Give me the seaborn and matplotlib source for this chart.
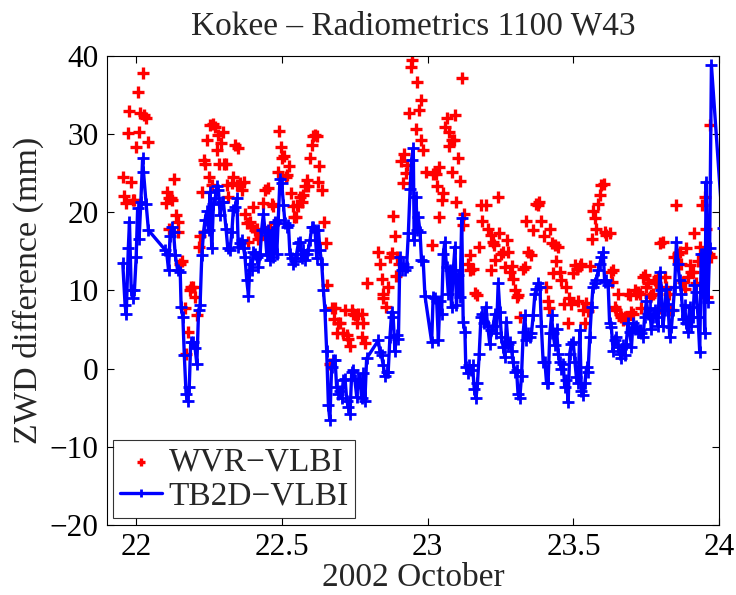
import matplotlib

matplotlib.use("Agg")

import matplotlib.pyplot as plt
import pandas as pd
import seaborn as sns


# WVR-VLBI: (day of October 2002, ZWD difference in mm)
WVR_DAY = [
    21.955, 21.960, 21.967, 21.973, 21.977, 21.984, 21.989, 21.994, 22.000, 22.006,
    22.011, 22.015, 22.026, 22.028, 22.035, 22.041, 22.103, 22.108, 22.112, 22.114,
    22.120, 22.125, 22.131, 22.137, 22.143, 22.145, 22.152, 22.157, 22.167, 22.172,
    22.180, 22.184, 22.189, 22.197, 22.203, 22.209, 22.215, 22.220, 22.226, 22.232,
    22.237, 22.243, 22.249, 22.254, 22.260, 22.264, 22.272, 22.277, 22.283, 22.286,
    22.291, 22.298, 22.302, 22.309, 22.312, 22.317,
    22.329, 22.334, 22.340, 22.346, 22.351, 22.357, 22.363, 22.369, 22.374, 22.380,
    22.386, 22.391, 22.397, 22.403, 22.409, 22.414, 22.420, 22.426, 22.437, 22.443,
    22.454, 22.460, 22.466, 22.471, 22.477, 22.488, 22.492, 22.497, 22.502, 22.508,
    22.515, 22.519, 22.526, 22.531, 22.538, 22.542, 22.549, 22.551, 22.557, 22.563,
    22.568, 22.574, 22.580, 22.586, 22.591, 22.597, 22.603, 22.608, 22.614, 22.622,
    22.626, 22.629, 22.637, 22.645, 22.652, 22.656, 22.665, 22.674, 22.680, 22.683,
    22.688, 22.694, 22.700, 22.711, 22.717, 22.723, 22.728, 22.734, 22.740, 22.745,
    22.751, 22.757, 22.763,
    22.774, 22.780, 22.775, 22.785, 22.791, 22.831, 22.837, 22.842, 22.846, 22.848,
    22.857, 22.865, 22.871, 22.877, 22.882, 22.888, 22.892, 22.896, 22.903, 22.908,
    22.914, 22.919, 22.926, 22.930, 22.937, 22.942, 22.947, 22.959, 22.965, 22.971,
    22.976, 22.979, 22.985, 22.994, 23.014, 23.019, 23.029, 23.031, 23.038, 23.040,
    23.048, 23.054, 23.059, 23.065, 23.072, 23.074, 23.082, 23.082, 23.090, 23.094,
    23.099, 23.105, 23.111, 23.117, 23.122, 23.124, 23.139, 23.145, 23.145, 23.157,
    23.162, 23.170, 23.177, 23.182, 23.188, 23.200, 23.206,
    23.217, 23.219, 23.223, 23.227, 23.231, 23.242, 23.245, 23.253, 23.259, 23.265,
    23.273, 23.276, 23.282, 23.288, 23.293, 23.299, 23.305, 23.310, 23.318, 23.328,
    23.333, 23.336, 23.345, 23.353, 23.362, 23.373, 23.379, 23.382, 23.390, 23.398,
    23.405, 23.413, 23.417, 23.419, 23.425, 23.430, 23.436, 23.440, 23.448, 23.453,
    23.459, 23.467, 23.476, 23.483, 23.485, 23.491, 23.499, 23.505, 23.513, 23.516,
    23.522, 23.527, 23.533, 23.539, 23.542, 23.550, 23.556, 23.562, 23.567, 23.573,
    23.579, 23.585, 23.590, 23.596, 23.604, 23.607, 23.613,
    23.624, 23.630, 23.633, 23.636, 23.641, 23.647, 23.653, 23.659, 23.664, 23.670,
    23.676, 23.681, 23.687, 23.693, 23.699, 23.704, 23.710, 23.716, 23.721, 23.727,
    23.733, 23.739, 23.744, 23.750, 23.756, 23.761, 23.767, 23.773, 23.778, 23.784,
    23.790, 23.796, 23.801, 23.807, 23.813, 23.818, 23.828, 23.836, 23.844, 23.853,
    23.858, 23.864, 23.870, 23.876, 23.881, 23.887, 23.893, 23.898, 23.904, 23.910,
    23.915, 23.921, 23.927, 23.935, 23.942, 23.950, 23.955, 23.958, 23.965, 23.967,
    23.973,
]
WVR_ZWD = [
    24.5, 22.1, 21.2, 30.1, 33.0, 23.9, 21.5, 21.6, 28.3, 35.4,
    30.3, 32.7, 37.8, 32.4, 32.1, 29.0, 21.2, 22.6, 17.8, 21.8,
    21.8, 21.5, 24.3, 19.7, 18.8, 17.5, 13.4, 13.8, 7.7, 1.9,
    4.7, 10.0, 10.5, 10.5, 9.2, 6.8, 15.6, 16.9, 22.6, 26.7,
    26.2, 29.2, 24.5, 31.2, 23.5, 31.3, 30.9, 28.0, 29.9, 26.2,
    28.8, 30.3, 26.2, 26.2, 23.5, 22.0,
    23.7, 24.5, 28.6, 23.5, 28.2, 23.7, 22.8, 23.9, 19.8, 18.6,
    16.2, 18.8, 18.1, 20.7, 17.7, 17.9, 16.6, 16.9, 21.2, 22.9,
    23.1, 18.1, 21.0, 20.8, 18.6, 25.2, 30.4, 28.4, 26.9, 27.2,
    24.5, 24.8, 25.9, 22.4, 20.8, 19.4, 19.4, 20.9, 20.8, 22.0,
    21.3, 22.2, 23.3, 24.1, 23.3, 26.9, 28.6, 29.7, 29.9, 29.7,
    23.9, 25.9, 22.8, 18.7, 16.1, 10.7, 0.6, 7.7, 6.4, 7.8,
    4.5, 5.8, 5.8, 4.5, 7.5, 4.3, 3.8, 2.9, 7.5, 7.0,
    6.8, 5.8, 7.0,
    7.0, 5.8, 4.1, 3.3, 10.9, 14.9, 13.4, 11.5, 9.0, 9.6,
    7.9, 10.5, 14.3, 14.8, 19.5, 16.9, 11.8, 14.3, 13.4, 26.5,
    23.7, 27.5, 25.0, 26.0, 32.7, 38.6, 39.5, 30.6, 36.6, 33.1,
    34.4, 29.2, 28.0, 25.2, 15.8, 24.9, 24.9, 23.3, 19.4, 25.8,
    21.5, 22.5, 30.9, 32.0, 30.3, 28.5, 29.2, 25.2, 29.2, 32.4,
    21.3, 26.9, 24.0, 37.1, 18.4, 19.8, 13.4, 14.5, 12.6, 12.8,
    9.7, 9.4, 15.6, 20.9, 18.9, 20.9, 17.8,
    17.1, 12.6, 16.2, 15.8, 13.9, 22.0, 17.4, 14.7, 14.9, 13.0,
    16.4, 14.9, 12.4, 13.1, 11.5, 10.0, 9.2, 9.4, 6.6, 12.8,
    13.0, 18.9, 14.9, 14.5, 17.7, 21.1, 20.9, 21.3, 18.9, 16.9,
    10.5, 8.7, 7.7, 17.9, 16.1, 12.2, 15.8, 13.8, 15.5, 12.4,
    11.3, 8.2, 10.4, 5.8, 9.0, 8.3, 12.2, 13.2, 12.8, 8.7,
    13.1, 13.4, 7.5, 5.8, 8.4, 7.4, 13.1, 16.6, 20.2, 19.2,
    17.9, 21.1, 22.2, 23.5, 23.6, 17.5, 17.1,
    17.4, 12.4, 11.1, 12.6, 7.9, 7.5, 9.6, 7.0, 6.6, 6.2,
    6.6, 6.4, 9.6, 9.4, 7.3, 7.0, 10.0, 9.6, 9.8, 9.6,
    7.7, 11.7, 12.0, 10.5, 10.9, 9.2, 9.4, 9.6, 11.3, 10.9,
    11.7, 16.1, 7.7, 16.2, 11.7, 10.5, 9.6, 7.5, 14.3, 20.9,
    14.7, 14.9, 13.4, 11.1, 10.2, 15.4, 11.7, 13.2, 12.4, 12.4,
    17.3, 10.9, 13.7, 15.6, 20.9, 22.0, 17.9, 9.2, 14.6, 31.2,
    14.3,
]

# TB2D-VLBI: (day of October 2002, ZWD difference in mm)
TB2D_DAY = [
    21.955, 21.963, 21.967, 21.974, 21.978, 21.984, 21.990, 21.995, 22.001, 22.006,
    22.011, 22.017, 22.023, 22.026, 22.035, 22.043, 22.100, 22.106, 22.112, 22.117,
    22.123, 22.129, 22.135, 22.143, 22.152, 22.155, 22.161, 22.166, 22.172, 22.177,
    22.183, 22.188, 22.197, 22.203, 22.209, 22.215, 22.220, 22.226, 22.232, 22.237,
    22.243, 22.249, 22.254, 22.260, 22.266, 22.272, 22.277, 22.283, 22.289, 22.294,
    22.300, 22.309, 22.315,
    22.323, 22.329, 22.334, 22.340, 22.346, 22.351, 22.357, 22.363, 22.369, 22.374,
    22.380, 22.386, 22.391, 22.397, 22.403, 22.409, 22.414, 22.420, 22.426, 22.431,
    22.437, 22.443, 22.449, 22.454, 22.460, 22.466, 22.471, 22.477, 22.483, 22.488,
    22.494, 22.500, 22.506, 22.511, 22.517, 22.523, 22.528, 22.534, 22.540, 22.546,
    22.551, 22.557, 22.563, 22.568, 22.574, 22.580, 22.586, 22.591, 22.597, 22.603,
    22.608, 22.614, 22.620, 22.626, 22.631, 22.637, 22.643, 22.648, 22.654, 22.660,
    22.665, 22.671, 22.677, 22.683, 22.688, 22.694, 22.700, 22.705, 22.711, 22.717,
    22.723, 22.728, 22.734, 22.740, 22.745, 22.751, 22.757, 22.763,
    22.768, 22.774, 22.780, 22.785, 22.791, 22.831, 22.837, 22.842, 22.848, 22.854,
    22.860, 22.865, 22.871, 22.877, 22.882, 22.888, 22.894, 22.900, 22.905, 22.911,
    22.917, 22.922, 22.928, 22.934, 22.940, 22.945, 22.951, 22.954, 22.960, 22.965,
    22.968, 22.974, 22.979, 22.985, 22.991, 23.014, 23.019, 23.025, 23.031, 23.037,
    23.042, 23.048, 23.054, 23.059, 23.065, 23.071, 23.077, 23.082, 23.088, 23.094,
    23.099, 23.105, 23.111, 23.117, 23.122, 23.128, 23.131, 23.137, 23.143, 23.149,
    23.154, 23.160, 23.166, 23.171, 23.177, 23.183, 23.188, 23.194, 23.200, 23.206,
    23.213, 23.219, 23.225, 23.231, 23.236, 23.242, 23.248, 23.253, 23.259, 23.265,
    23.270, 23.276, 23.282, 23.288, 23.293, 23.299, 23.305, 23.310, 23.316, 23.322,
    23.328, 23.333, 23.339, 23.345, 23.350, 23.356, 23.362, 23.368, 23.373, 23.379,
    23.385, 23.390, 23.396, 23.402, 23.408, 23.413, 23.419, 23.425, 23.430, 23.436,
    23.442, 23.448, 23.453, 23.459, 23.465, 23.470, 23.476, 23.482, 23.487, 23.493,
    23.499, 23.505, 23.510, 23.516, 23.522, 23.527, 23.533, 23.539, 23.545, 23.550,
    23.556, 23.562, 23.567, 23.573, 23.579, 23.585, 23.590, 23.596, 23.602, 23.607,
    23.613, 23.619,
    23.624, 23.630, 23.636, 23.641, 23.647, 23.653, 23.659, 23.664, 23.670, 23.676,
    23.681, 23.687, 23.693, 23.699, 23.704, 23.710, 23.716, 23.721, 23.727, 23.733,
    23.739, 23.744, 23.750, 23.756, 23.761, 23.767, 23.773, 23.778, 23.784, 23.790,
    23.796, 23.801, 23.807, 23.813, 23.818, 23.824, 23.830, 23.836, 23.841, 23.847,
    23.853, 23.858, 23.864, 23.870, 23.876, 23.881, 23.887, 23.893, 23.898, 23.904,
    23.910, 23.915, 23.921, 23.927, 23.933, 23.938, 23.944, 23.950, 23.955, 23.961,
    23.967, 23.973, 24.012,
]
TB2D_ZWD = [
    13.5, 8.1, 7.0, 15.4, 18.8, 10.0, 9.0, 10.0, 14.3, 20.5,
    16.6, 21.3, 26.9, 25.2, 21.1, 17.7, 15.2, 14.7, 12.6, 16.9,
    18.1, 17.5, 14.5, 12.6, 12.4, 7.9, 6.6, 1.7, -3.2, -4.1,
    -2.3, 3.4, 3.4, 2.6, 0.6, 7.5, 8.1, 14.5, 17.5, 19.0,
    20.1, 17.7, 22.6, 15.4, 21.1, 21.8, 23.3, 22.8, 19.6, 21.3,
    21.3, 17.9, 15.4,
    15.2, 17.5, 20.3, 20.7, 21.8, 15.6, 16.0, 16.4, 15.4, 14.3,
    11.3, 9.3, 13.4, 12.6, 14.9, 14.7, 14.3, 13.0, 14.7, 17.7,
    19.8, 17.5, 14.5, 17.7, 13.9, 17.5, 14.3, 18.8, 14.7, 19.0,
    24.3, 23.7, 20.9, 18.6, 18.1, 18.4, 14.7, 14.1, 13.4, 13.7,
    14.7, 16.0, 16.2, 14.1, 15.2, 13.9, 14.7, 15.2, 16.4, 18.1,
    18.1, 17.7, 14.1, 17.7, 15.2, 13.4, 10.0, 7.5, 2.3, -4.7,
    -6.6, 0.2, 1.1, 1.1, -2.3, -3.2, -2.8, -3.8, -1.5, -1.3,
    -4.1, -4.9, -5.8, -0.4, -0.2, -1.5, -3.6, -1.3,
    -1.3, -3.8, -0.6, -4.1, 1.3, 3.6, 2.1, 1.7, 0.4, -0.9,
    -0.4, -0.4, 4.1, 7.3, 6.6, 2.3, 4.3, 3.8, 14.3, 12.6,
    13.4, 12.6, 13.0, 17.3, 23.0, 26.7, 28.2, 16.4, 22.0, 17.7,
    19.4, 17.5, 13.9, 13.7, 9.3, 3.4, 9.2, 9.0, 8.7, 3.6,
    8.7, 7.0, 14.7, 16.2, 13.0, 9.6, 12.6, 7.9, 12.6, 15.6,
    8.1, 12.0, 9.2, 19.2, 6.0, 4.7, 0.2, -0.6, 0.4, -0.2,
    0.4, -2.6, -3.8, -1.9, 1.9, 6.6, 7.0, 5.8, 7.9, 5.5,
    3.2, 4.9, 5.5, 7.0, 4.5, 10.9, 7.3, 4.1, 2.8, 1.5,
    6.0, 3.2, 3.4, 2.3, 0.9, -0.4, -0.2, -3.2, -3.8, -0.9,
    4.7, 6.8, 3.6, 4.5, 4.1, 4.5, 6.8, 9.6, 10.2, 10.9,
    10.5, 5.5, 0.9, 0.9, -1.9, -1.9, 4.5, 6.8, 4.5, 3.0,
    5.1, 1.9, 0.9, 0.0, 0.6, -2.3, -1.5, -4.3, 1.9, 3.2,
    3.4, 0.9, -1.1, -1.9, 4.9, -2.8, -3.4, -1.9, 0.2, -0.4,
    4.1, 7.9, 10.5, 10.9, 11.3, 12.6, 13.4, 14.3, 14.9, 11.1,
    11.3, 10.7,
    5.8, 5.3, 2.3, 3.6, 4.1, 2.8, 1.9, 1.3, 3.0, 1.7,
    3.2, 5.8, 4.7, 2.8, 5.8, 5.1, 5.5, 4.7, 4.9, 4.5,
    4.1, 6.6, 8.7, 7.0, 7.7, 5.1, 6.6, 7.5, 6.6, 5.5,
    12.4, 10.0, 5.5, 7.5, 10.2, 8.3, 4.1, 5.3, 7.5, 10.5,
    16.2, 13.4, 11.3, 9.6, 6.4, 8.1, 5.8, 4.7, 7.9, 5.5,
    6.6, 10.7, 9.8, 6.6, 2.1, 14.7, 14.7, 4.5, 23.9, 8.5,
    15.4, 38.8, 18.0,
]

X_TICKS = [22, 22.5, 23, 23.5, 24]
X_TICK_LABELS = ["22", "22.5", "23", "23.5", "24"]
Y_TICKS = [-20, -10, 0, 10, 20, 30, 40]

TITLE = "Kokee \u2013 Radiometrics 1100 W43"
XLABEL = "2002 October"
YLABEL = "ZWD difference (mm)"
WVR_LABEL = "WVR\u2212VLBI"
TB2D_LABEL = "TB2D\u2212VLBI"


def main():
    sns.set_theme(style="ticks")
    plt.rcParams["font.family"] = ["Liberation Serif", "DejaVu Serif"]
    plt.rcParams["axes.linewidth"] = 0.8
    plt.rcParams["axes.edgecolor"] = "black"

    wvr = pd.DataFrame({"day": WVR_DAY, "zwd": WVR_ZWD})
    tb2d = pd.DataFrame({"day": TB2D_DAY, "zwd": TB2D_ZWD})

    fig = plt.figure(figsize=(7.36, 5.95), dpi=100)
    ax = fig.add_axes([0.145, 0.1176, 0.8323, 0.7886])

    sns.scatterplot(
        data=wvr, x="day", y="zwd", ax=ax, marker="+", s=75,
        color="red", linewidth=2.4, label=WVR_LABEL, zorder=2,
    )
    sns.lineplot(
        data=tb2d, x="day", y="zwd", ax=ax, color="blue", linewidth=2.4,
        marker="+", markersize=8, markeredgewidth=2.0, markeredgecolor="blue",
        estimator=None, sort=False, label=TB2D_LABEL, zorder=3,
    )

    ax.set_xlim(21.9, 24)
    ax.set_ylim(-20, 40)
    ax.set_xticks(X_TICKS)
    ax.set_xticklabels(X_TICK_LABELS)
    ax.set_yticks(Y_TICKS)
    ax.tick_params(direction="in", length=5, width=0.8, labelsize=22.5,
                   top=True, right=True, pad=6, colors="black")

    ax.set_title(TITLE, fontsize=24, pad=15)
    ax.set_xlabel(XLABEL, fontsize=24, labelpad=0)
    ax.set_ylabel(YLABEL, fontsize=24.5, labelpad=4)

    leg = ax.legend(
        loc="lower left", bbox_to_anchor=(0.011, 0.015), borderaxespad=0,
        fontsize=24, frameon=True, fancybox=False, edgecolor="black",
        handlelength=1.25, handletextpad=0.2, labelspacing=0.1,
        borderpad=0.2, markerscale=0.7,
    )
    leg.get_frame().set_linewidth(0.8)

    fig.savefig("out.png", dpi=100, facecolor="white")
    plt.close(fig)


if __name__ == "__main__":
    main()
